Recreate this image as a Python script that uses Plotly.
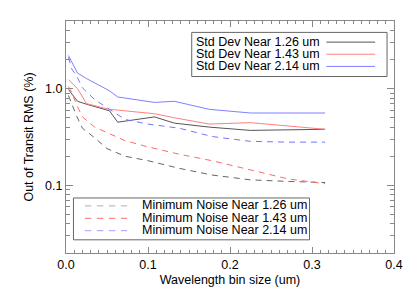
import plotly.graph_objects as go

# ---- data ----
std_x = [0.003, 0.014, 0.025, 0.053, 0.063, 0.108, 0.132, 0.175, 0.225, 0.316]
std_126 = [0.98, 0.74, 0.69, 0.59, 0.45, 0.51, 0.44, 0.40, 0.37, 0.38]
std_143 = [1.24, 1.00, 0.70, 0.61, 0.60, 0.55, 0.50, 0.43, 0.445, 0.38]
std_214 = [2.20, 1.45, 1.27, 0.95, 0.82, 0.72, 0.74, 0.61, 0.56, 0.56]

noise_x = [0.003, 0.007, 0.013, 0.020, 0.035, 0.050, 0.072, 0.100, 0.138, 0.178, 0.225, 0.270, 0.316]
noise_126 = [0.85, 0.69, 0.52, 0.39, 0.31, 0.24, 0.20, 0.18, 0.15, 0.128, 0.114, 0.110, 0.107]
noise_143 = [1.05, 0.92, 0.68, 0.51, 0.40, 0.35, 0.29, 0.25, 0.21, 0.18, 0.144, 0.117, 0.104]
noise_214 = [2.10, 1.60, 1.35, 1.02, 0.77, 0.64, 0.48, 0.43, 0.39, 0.32, 0.285, 0.28, 0.28]

std_labels = ["Std Dev Near 1.26 um", "Std Dev Near 1.43 um", "Std Dev Near 2.14 um"]
noise_labels = ["Minimum Noise Near 1.26 um", "Minimum Noise Near 1.43 um", "Minimum Noise Near 2.14 um"]

x_ticks = [0.0, 0.1, 0.2, 0.3, 0.4]
x_ticklabels = ["0.0", "0.1", "0.2", "0.3", "0.4"]
y_ticks = [0.1, 1.0]
y_ticklabels = ["0.1", "1.0"]
y_minor = [0.02, 0.03, 0.04, 0.05, 0.06, 0.07, 0.08, 0.09,
           0.2, 0.3, 0.4, 0.5, 0.6, 0.7, 0.8, 0.9, 2, 3, 4, 5]

solid_colors = ["#555555", "#ff8080", "#8080ff"]
dash_colors = ["#666666", "#ff6a6a", "#7474ff"]
leg_dash_colors = ["#b0b0b0", "#ff7070", "#a0a0ff"]

FONT = "Liberation Sans, Arial, Helvetica, sans-serif"
W, H = 415, 297
L, R, T, B = 66, 19, 21, 42
PW, PH = W - L - R, H - T - B

def px(x):
    return (x - L) / PW

def py(y):
    return (H - B - y) / PH

fig = go.Figure()
for ys, c, n in zip([std_126, std_143, std_214], solid_colors, std_labels):
    fig.add_trace(go.Scatter(x=std_x, y=ys, mode="lines", name=n,
                             line=dict(color=c, width=1), showlegend=False))
for ys, c, n in zip([noise_126, noise_143, noise_214], dash_colors, noise_labels):
    fig.add_trace(go.Scatter(x=noise_x, y=ys, mode="lines", name=n,
                             line=dict(color=c, width=1, dash="6px,5px"), showlegend=False))

shapes = []
annots = []
# legend 1 (top right)
shapes.append(dict(type="rect", xref="paper", yref="paper",
                   x0=px(192.5), x1=px(389), y0=py(32.5), y1=py(77),
                   line=dict(color="#666666", width=1), fillcolor="white", layer="above"))
for i, (lab, c) in enumerate(zip(std_labels, solid_colors)):
    yy = [42.0, 54.2, 66.5][i]
    annots.append(dict(xref="paper", yref="paper", x=px(195), y=py(yy), text=lab,
                       showarrow=False, xanchor="left", yanchor="middle", height=12,
                       valign="middle",
                       font=dict(family=FONT, size=12.5, color="black")))
    shapes.append(dict(type="line", xref="paper", yref="paper",
                       x0=px(328), x1=px(377), y0=py(yy + 0.3), y1=py(yy + 0.3),
                       line=dict(color=c, width=1), layer="above"))
# legend 2 (bottom left)
shapes.append(dict(type="rect", xref="paper", yref="paper",
                   x0=px(73.5), x1=px(311), y0=py(199.5), y1=py(241.7),
                   line=dict(color="#666666", width=1), fillcolor="white", layer="above"))
for i, (lab, c) in enumerate(zip(noise_labels, leg_dash_colors)):
    yy = [207.0, 219.5, 232.0][i]
    annots.append(dict(xref="paper", yref="paper", x=px(140), y=py(yy), text=lab,
                       showarrow=False, xanchor="left", yanchor="middle", height=12,
                       valign="middle",
                       font=dict(family=FONT, size=12.5, color="black")))
    shapes.append(dict(type="line", xref="paper", yref="paper",
                       x0=px(85), x1=px(127.5), y0=py(yy + 0.5), y1=py(yy + 0.5),
                       line=dict(color=c, width=1, dash="6.5px,5.5px"), layer="above"))

axis_common = dict(showline=True, linecolor="#888888", linewidth=1, mirror="ticks",
                   ticks="inside", tickcolor="#888888", showgrid=False, zeroline=False,
                   tickfont=dict(family=FONT, size=12.5, color="black"))

fig.update_layout(
    width=W, height=H,
    margin=dict(l=L, r=R, t=T, b=B),
    paper_bgcolor="white", plot_bgcolor="white",
    font=dict(family=FONT, size=12.5, color="black"),
    shapes=shapes, annotations=annots,
    xaxis=dict(range=[0, 0.4], tickvals=x_ticks, ticktext=x_ticklabels, ticklen=6,
               minor=dict(dtick=0.01, tick0=0, ticks="inside", ticklen=3, tickcolor="#888888"),
               title=dict(text="Wavelength bin size (um)", standoff=4,
                          font=dict(family=FONT, size=12.5, color="black")),
               **axis_common),
    yaxis=dict(type="log", range=[-1.69897, 0.69897], tickvals=y_ticks, ticktext=y_ticklabels,
               ticklen=7,
               minor=dict(tickvals=y_minor, ticks="inside", ticklen=4, tickcolor="#888888"),
               title=dict(text="Out of Transit RMS (%)", standoff=8,
                          font=dict(family=FONT, size=12.5, color="black")),
               **axis_common),
)

fig.write_html("out.html", config={"displayModeBar": False},
               post_script="document.body.style.margin='0px';document.body.style.overflow='hidden';")
